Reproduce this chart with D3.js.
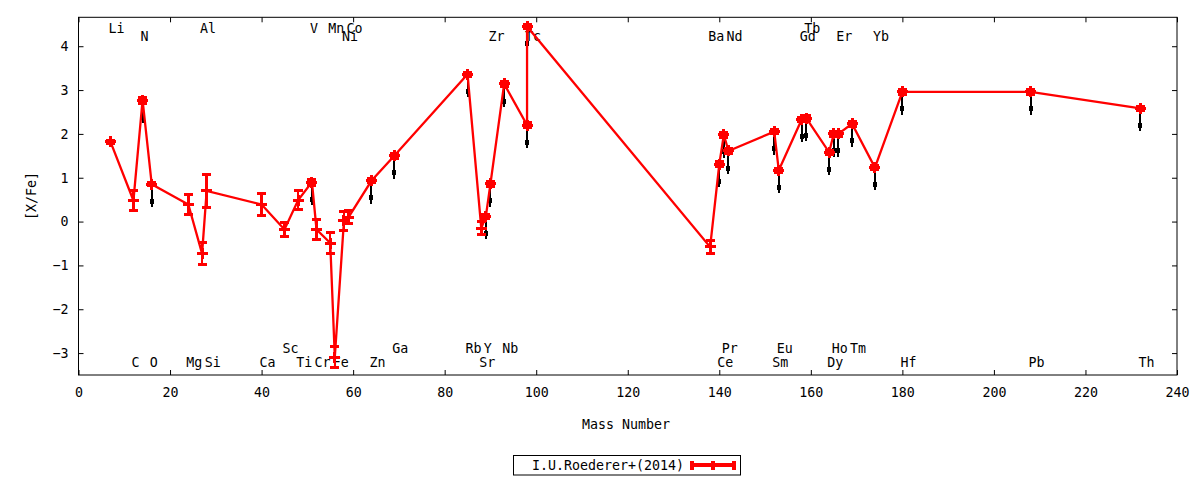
<!DOCTYPE html>
<html>
<head>
<meta charset="utf-8">
<script src="https://cdn.jsdelivr.net/npm/d3@7"></script>
<style>
  body { margin: 0; background: #fff; }
  svg { font-family: "DejaVu Sans Mono", monospace; font-size: 13.3px; }
</style>
</head>
<body>
<div id="chart"></div>
<script>
// element, mass number, [X/Fe], error (plot order = file order)
const elements = ["Li","C","N","O","Mg","Al","Si","Ca","Sc","Ti","V","Cr","Mn","Fe","Ni","Co","Zn","Ga",
                  "Rb","Sr","Y","Zr","Nb","Tc","Tc","Ba","Ce","Pr","Nd","Sm","Eu","Gd","Tb","Dy","Ho","Er",
                  "Tm","Yb","Hf","Pb","Th"];
const masses = [7,12,14,16,24,27,28,40,45,48,51,52,55,56,58,59,64,69,
                85,88,89,90,93,98,98,138,140,141,142,152,153,158,159,164,165,166,
                169,174,180,208,232];
const values = [1.82,0.48,2.77,0.85,0.39,-0.73,0.70,0.39,-0.18,0.49,0.90,-0.18,-0.49,-3.09,0.02,0.10,0.93,1.50,
                3.36,-0.15,0.12,0.86,3.14,2.20,4.45,-0.58,1.31,1.98,1.61,2.05,1.17,2.33,2.36,1.58,2.00,2.00,
                2.23,1.23,2.96,2.96,2.58];
const errors = [0.03,0.23,0.07,0.03,0.23,0.26,0.38,0.25,0.15,0.22,0.07,0.22,0.23,0.23,0.22,0.15,0.05,0.05,
                0.05,0.15,0.05,0.05,0.06,0.05,0.05,0.14,0.05,0.06,0.05,0.05,0.05,0.05,0.05,0.05,0.05,0.05,
                0.05,0.05,0.05,0.05,0.05];
// points carrying a black downward arrow (index into the arrays above)
const arrowIdx = [2,3,10,16,17,18,20,21,22,23,24,26,27,28,29,30,31,32,33,34,35,36,37,38,39,40];
const arrowLen = 0.52;

// element labels: name, mass, label row (y in data units)
const labelNames = ["Li","Al","V","Mn","Co","Tb",
                    "N","Ni","Zr","Tc","Ba","Nd","Gd","Er","Yb",
                    "Sc","Ga","Rb","Y","Nb","Pr","Eu","Ho","Tm",
                    "C","O","Mg","Si","Ca","Ti","Cr","Fe","Zn","Sr","Ce","Sm","Dy","Hf","Pb","Th"];
const labelMass = [7,27,51,55,59,159,
                   14,58,90,98,138,142,158,166,174,
                   45,69,85,89,93,141,153,165,169,
                   12,16,24,28,40,48,52,56,64,88,140,152,164,180,208,232];
const labelY = [4.4,4.4,4.4,4.4,4.4,4.4,
                4.2,4.2,4.2,4.2,4.2,4.2,4.2,4.2,4.2,
                -2.9,-2.9,-2.9,-2.9,-2.9,-2.9,-2.9,-2.9,-2.9,
                -3.23,-3.23,-3.23,-3.23,-3.23,-3.23,-3.23,-3.23,-3.23,-3.23,-3.23,-3.23,-3.23,-3.23,-3.23,-3.23];

const xTicks = d3.range(0, 241, 20);
const yTicks = [-3,-2,-1,0,1,2,3,4];
const seriesName = "I.U.Roederer+(2014)";

const W = 1200, H = 480;
const svg = d3.select("#chart").append("svg").attr("width", W).attr("height", H);

const x = d3.scaleLinear().domain([0, 240]).range([78.5, 1177]);
const y = d3.scaleLinear().domain([-3.5, 4.66]).range([375, 17.3]);

// axes with inward ticks on all four sides
svg.append("g").attr("transform", "translate(0,375)")
  .call(d3.axisBottom(x).tickValues(xTicks).tickSize(-5).tickPadding(13))
  .call(g => g.select(".domain").remove());
svg.append("g").attr("transform", "translate(0,17.3)")
  .call(d3.axisTop(x).tickValues(xTicks).tickSize(-5).tickFormat(""))
  .call(g => g.select(".domain").remove());
svg.append("g").attr("transform", "translate(78.5,0)")
  .call(d3.axisLeft(y).tickValues(yTicks).tickSize(-5).tickPadding(10))
  .call(g => g.select(".domain").remove());
svg.append("g").attr("transform", "translate(1177,0)")
  .call(d3.axisRight(y).tickValues(yTicks).tickSize(-5).tickFormat(""))
  .call(g => g.select(".domain").remove());
svg.selectAll(".tick text").attr("font-family", "DejaVu Sans Mono").attr("font-size", "13.3px").attr("fill", "#000");
svg.selectAll(".tick line").attr("stroke", "#000");

svg.append("rect")
  .attr("x", 78.5).attr("y", 17.3).attr("width", 1177 - 78.5).attr("height", 375 - 17.3)
  .attr("fill", "none").attr("stroke", "#000").attr("stroke-width", 1);

// axis titles
svg.append("text").attr("x", 626).attr("y", 425).attr("text-anchor", "middle")
  .attr("dominant-baseline", "middle").text("Mass Number");
svg.append("text").attr("transform", "translate(32,196) rotate(-90)").attr("text-anchor", "middle")
  .attr("dominant-baseline", "middle").text("[X/Fe]");

// element labels
svg.append("g").selectAll("text")
  .data(labelNames)
  .enter().append("text")
  .attr("x", (d, i) => x(labelMass[i]) - 2)
  .attr("y", (d, i) => y(labelY[i]))
  .attr("dominant-baseline", "middle")
  .text(d => d);

// black arrows (drawn under the red series)
const arrows = svg.append("g").attr("shape-rendering", "crispEdges");
arrowIdx.forEach(i => {
  const px = x(masses[i]);
  arrows.append("line")
    .attr("x1", px).attr("x2", px)
    .attr("y1", y(values[i])).attr("y2", y(values[i] - arrowLen))
    .attr("stroke", "#000").attr("stroke-width", 2);
  arrows.append("rect")
    .attr("x", px - 2).attr("y", y(values[i] - 0.39) - 2.5)
    .attr("width", 4).attr("height", 5).attr("fill", "#000");
});

// red series: line + errorbars + markers
const red = "#ff0000";
const idx = d3.range(masses.length);
svg.append("path")
  .datum(idx)
  .attr("fill", "none").attr("stroke", red).attr("stroke-width", 2.3)
  .attr("d", d3.line().x(i => x(masses[i])).y(i => y(values[i])));

const pts = svg.append("g").selectAll("g").data(idx).enter().append("g")
  .attr("stroke", red).attr("shape-rendering", "crispEdges");
pts.append("line")
  .attr("x1", i => x(masses[i])).attr("x2", i => x(masses[i]))
  .attr("y1", i => y(values[i] - errors[i])).attr("y2", i => y(values[i] + errors[i]))
  .attr("stroke-width", 2.5);
[-1, 1].forEach(s => {
  pts.append("line")
    .attr("x1", i => x(masses[i]) - 4.5).attr("x2", i => x(masses[i]) + 4.5)
    .attr("y1", i => y(values[i] + s * errors[i])).attr("y2", i => y(values[i] + s * errors[i]))
    .attr("stroke-width", 3);
});
pts.append("line")
  .attr("x1", i => x(masses[i]) - 5.5).attr("x2", i => x(masses[i]) + 5.5)
  .attr("y1", i => y(values[i])).attr("y2", i => y(values[i]))
  .attr("stroke-width", 3);
pts.append("line")
  .attr("x1", i => x(masses[i])).attr("x2", i => x(masses[i]))
  .attr("y1", i => y(values[i]) - 5.5).attr("y2", i => y(values[i]) + 5.5)
  .attr("stroke-width", 3);

// legend
const lg = svg.append("g");
lg.append("rect").attr("x", 513.5).attr("y", 455.5).attr("width", 227).attr("height", 19.5)
  .attr("fill", "none").attr("stroke", "#000");
lg.append("text").attr("x", 684).attr("y", 465.5).attr("text-anchor", "end")
  .attr("dominant-baseline", "middle").text(seriesName);
lg.append("line").attr("x1", 692).attr("x2", 734).attr("y1", 465).attr("y2", 465)
  .attr("stroke", red).attr("stroke-width", 3.5).attr("shape-rendering", "crispEdges");
[692, 713, 734].forEach(px => {
  lg.append("line").attr("x1", px).attr("x2", px).attr("y1", 460.5).attr("y2", 469.5)
    .attr("stroke", red).attr("stroke-width", 3.8).attr("shape-rendering", "crispEdges");
});
</script>
</body>
</html>
